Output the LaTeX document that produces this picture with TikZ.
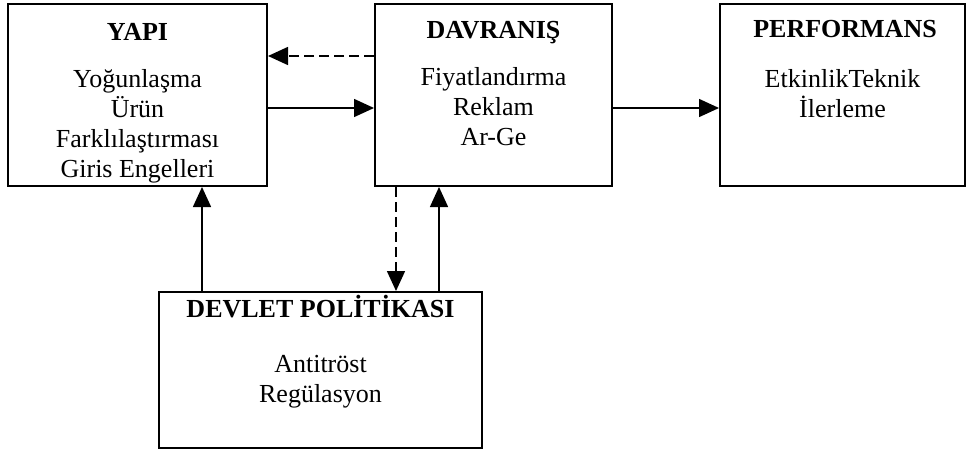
\documentclass[tikz,border=0pt]{standalone}
\usepackage{fontspec}
\setmainfont{Liberation Serif}
\usetikzlibrary{arrows.meta}
\begin{document}
\begin{tikzpicture}[x=0.5pt,y=-0.5pt]
	\tikzset{box/.style={draw, line width=1pt, minimum height=91pt, inner sep=0pt}}
	\tikzset{title/.style={anchor=base, inner sep=0pt, font=\fontsize{13}{15}\selectfont\bfseries}}
	\tikzset{items/.style={anchor=north, align=center, inner sep=0pt, font=\fontsize{13}{15}\selectfont}}
	\tikzset{arrow/.style={draw, line width=0.75pt, -{Triangle[length=10pt, width=9pt]}}}
	\tikzset{dasharrow/.style={arrow, dash pattern=on 5pt off 2.5pt}}
	
	\useasboundingbox (0,0) rectangle (967,455);
	
	\node[box, minimum width=129.5pt] (yapi) at (137.5, 95) {};
	\node[box, minimum width=118.5pt] (davranis) at (493.5, 95) {};
	\node[box, minimum width=122.5pt] (performans) at (842.5, 95) {};
	\node[box, minimum width=161.5pt, minimum height=78pt] (devlet) at (320.5, 370) {};
	
	\node[title] (yapiT) at (137.5, 40) {YAPI};
	\node[items] (yapiL) at (137.5, 69) {Yoğunlaşma\\Ürün\\Farklılaştırması\\Giris Engelleri};
	\node[title] (davranisT) at (493.5, 39) {DAVRANIŞ};
	\node[items] (davranisL) at (493.5, 67) {Fiyatlandırma\\Reklam\\Ar-Ge};
	\node[title] (performansT) at (845, 37) {PERFORMANS};
	\node[items] (performansL) at (842.5, 69) {EtkinlikTeknik\\İlerleme};
	\node[title] (devletT) at (320.5, 317) {DEVLET POLİTİKASI};
	\node[items] (devletL) at (320.5, 355) {Antitröst\\Regülasyon};
	
	\draw[dasharrow] ([yshift=19.5pt]davranis.west) -- ([yshift=19.5pt]yapi.east);
	\draw[arrow] ([yshift=-6.5pt]yapi.east) -- ([yshift=-6.5pt]davranis.west);
	\draw[arrow] ([yshift=-6.5pt]davranis.east) -- ([yshift=-6.5pt]performans.west);
	
	\draw[arrow] ([xshift=-59.25pt]devlet.north) -- ([xshift=32.25pt]yapi.south);
	\draw[dasharrow] ([xshift=-48.75pt]davranis.south) -- ([xshift=37.75pt]devlet.north);
	\draw[arrow] ([xshift=59.25pt]devlet.north) -- ([xshift=-27.25pt]davranis.south);
\end{tikzpicture}
\end{document}
